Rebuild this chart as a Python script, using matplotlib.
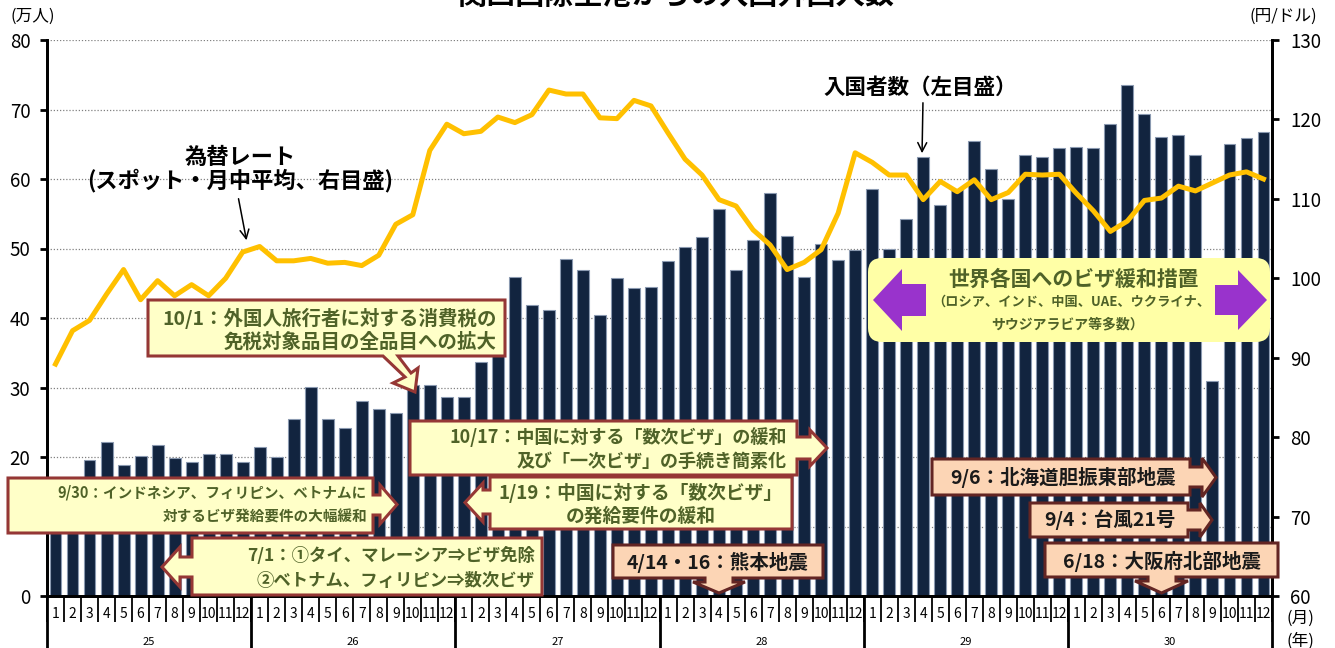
import matplotlib
matplotlib.use('Agg')
import matplotlib.pyplot as plt
from matplotlib.patches import Polygon, FancyBboxPatch, FancyArrowPatch
from matplotlib.transforms import Affine2D, blended_transform_factory
import numpy as np

plt.rcParams['font.family'] = ['Noto Sans CJK JP', 'DejaVu Sans']

# 年 (平成) と月
years = ['25', '26', '27', '28', '29', '30']
months = [str(m) for m in range(1, 13)] * len(years)

# 入国外国人数 (万人), 2013/1 - 2018/12
visitors = [15.5, 16.8, 19.6, 22.2, 18.9, 20.1, 21.7, 19.9, 19.3, 20.4, 20.5, 19.3,
            21.4, 20.0, 25.4, 30.1, 25.4, 24.2, 28.1, 26.9, 26.4, 30.3, 30.3, 28.7,
            28.7, 33.7, 36.0, 45.9, 41.8, 41.1, 48.5, 46.9, 40.4, 45.8, 44.3, 44.5,
            48.2, 50.2, 51.6, 55.7, 46.9, 51.2, 58.0, 51.8, 45.9, 50.6, 48.3, 49.8,
            58.6, 49.9, 54.2, 63.2, 56.3, 58.5, 65.4, 61.5, 57.1, 63.5, 63.2, 64.4,
            64.6, 64.5, 67.9, 73.5, 69.4, 66.1, 66.3, 63.4, 30.9, 65.0, 65.9, 66.7]

# 為替レート (円/ドル, スポット・月中平均)
yen = [89.2, 93.4, 94.7, 98.0, 101.1, 97.3, 99.7, 97.8, 99.2, 97.8, 100.0, 103.3,
       104.0, 102.2, 102.2, 102.5, 101.9, 102.0, 101.6, 102.9, 106.8, 108.0, 116.1, 119.4,
       118.2, 118.5, 120.3, 119.6, 120.6, 123.7, 123.2, 123.2, 120.2, 120.1, 122.4, 121.7,
       118.3, 115.0, 113.0, 109.9, 109.1, 106.1, 104.2, 101.1, 102.0, 103.6, 108.2, 115.8,
       114.6, 113.0, 113.0, 109.9, 112.2, 110.9, 112.4, 109.9, 110.8, 113.1, 113.0, 113.1,
       110.7, 108.5, 105.9, 107.2, 109.8, 110.1, 111.6, 111.0, 112.0, 113.0, 113.4, 112.5]

W, H = 1335, 648
fig = plt.figure(figsize=(W / 100, H / 100), dpi=100)
ax = fig.add_axes([47 / W, 1 - 596 / H, (1272 - 47) / W, 556 / H])
ax2 = ax.twinx()

x = np.arange(len(visitors))
ax.bar(x, visitors, width=0.7, color='#12243f', edgecolor='#8a99b0', linewidth=0.8)
ax.set_xlim(-0.5, len(visitors) - 0.5)
ax.set_ylim(0, 80)
ax.set_yticks(range(0, 81, 10))
ax.yaxis.grid(True, linestyle=(0, (1, 1.5)), color='#808080', lw=0.9)
ax.set_axisbelow(True)

ax2.plot(x, yen, color='#ffc000', lw=3.6, solid_joinstyle='round')
ax2.set_ylim(60, 130)
ax2.set_yticks(range(60, 131, 10))

for a in (ax, ax2):
    a.spines['top'].set_visible(False)
    for s in ('left', 'right', 'bottom'):
        a.spines[s].set_linewidth(2)
ax.tick_params(axis='y', direction='out', length=5, width=2, pad=7, labelsize=13.5)
ax2.tick_params(axis='y', direction='out', length=5, width=2, pad=8, labelsize=13.5)

# x axis: month separators and labels
ax.set_xticks(np.arange(-0.5, len(visitors)), labels=[''] * (len(visitors) + 1))
ax.tick_params(axis='x', which='major', direction='out', length=19, width=1.3)
ax.set_xticks(x, labels=months, minor=True)
ax.tick_params(axis='x', which='minor', length=0, pad=8, labelsize=10)

trans = blended_transform_factory(ax.transData, ax.transAxes)
for k in range(len(years) + 1):
    ax.plot([12 * k - 0.5] * 2, [0, -0.1], transform=trans, clip_on=False,
            color='black', lw=2)
for k, yr in enumerate(years):
    ax.text(12 * k + 5.5, -0.083, yr, transform=trans, ha='center', va='center', fontsize=8)

# pixel coordinates (origin top-left)
pxT = Affine2D().scale(1 / W, -1 / H).translate(0, 1) + fig.transFigure

fig.text(676, 10, '関西国際空港からの入国外国人数', transform=pxT, ha='center', va='bottom',
         fontsize=21, fontweight='bold')
fig.text(33, 16, '(万人)', transform=pxT, ha='center', va='center', fontsize=12)
fig.text(1283, 16, '(円/ドル)', transform=pxT, ha='center', va='center', fontsize=12)
fig.text(1300, 618, '(月)', transform=pxT, ha='center', va='center', fontsize=12)
fig.text(1300, 641, '(年)', transform=pxT, ha='center', va='center', fontsize=12)

OLIVE = '#4f6228'
YEL, YEL_EC = '#ffffc8', '#953735'
SAL, SAL_EC = '#fcd5b5', '#632523'


def shape(verts, fc, ec, lw=2.2):
    fig.add_artist(Polygon(verts, closed=True, transform=pxT, fc=fc, ec=ec, lw=lw,
                           joinstyle='miter'))


def right_box(x0, y0, x1, y1, hx, tx, sy, hy, fc, ec):
    ty = (hy[0] + hy[1]) / 2
    shape([(x0, y0), (x1, y0), (x1, sy[0]), (hx, sy[0]), (hx, hy[0]), (tx, ty),
           (hx, hy[1]), (hx, sy[1]), (x1, sy[1]), (x1, y1), (x0, y1)], fc, ec)


def left_box(x0, y0, x1, y1, hx, tx, sy, hy, fc, ec):
    ty = (hy[0] + hy[1]) / 2
    shape([(x0, y0), (x1, y0), (x1, y1), (x0, y1), (x0, sy[1]), (hx, sy[1]),
           (hx, hy[1]), (tx, ty), (hx, hy[0]), (hx, sy[0]), (x0, sy[0])], fc, ec)


def down_box(x0, y0, x1, y1, hy, ty, sx, hx, fc, ec):
    tx = (hx[0] + hx[1]) / 2
    shape([(x0, y0), (x1, y0), (x1, y1), (sx[1], y1), (sx[1], hy), (hx[1], hy),
           (tx, ty), (hx[0], hy), (sx[0], hy), (sx[0], y1), (x0, y1)], fc, ec)


def label(xp, yp, s, size, color=OLIVE, ha='center'):
    fig.text(xp, yp, s, transform=pxT, fontsize=size, color=color, fontweight='bold',
             ha=ha, va='center')


def arrow(p0, p1):
    fig.add_artist(FancyArrowPatch(p0, p1, transform=pxT, arrowstyle='->',
                                   mutation_scale=16, lw=1.1, color='black'))


# line / bar labels
label(240, 157, '為替レート', 16, 'black')
label(240, 181, '(スポット・月中平均、右目盛)', 16, 'black')
arrow((238, 196), (247, 243))
label(920, 87, '入国者数（左目盛）', 15.5, 'black')
arrow((923, 100), (922, 156))

# 10/1
shape([(148, 300), (505, 300), (505, 356), (398, 356), (411, 373), (418, 368),
       (415, 392), (393, 383), (405, 377), (383, 356), (148, 356)], YEL, YEL_EC)
label(497, 318, '10/1：外国人旅行者に対する消費税の', 14, ha='right')
label(497, 342, '免税対象品目の全品目への拡大', 14, ha='right')

# 10/17
right_box(410, 421, 797, 475, 810, 827, (437, 459), (430, 466), YEL, YEL_EC)
label(787, 437, '10/17：中国に対する「数次ビザ」の緩和', 13, ha='right')
label(787, 461, '及び「一次ビザ」の手続き簡素化', 13, ha='right')

# 1/19
left_box(490, 477, 792, 529, 483, 465, (490, 514), (483, 522), YEL, YEL_EC)
label(641, 493, '1/19：中国に対する「数次ビザ」', 13.5)
label(641, 516, 'の発給要件の緩和', 13.5)

# 9/30
right_box(8, 478, 373, 533, 380, 397, (495, 515), (485, 524), YEL, YEL_EC)
label(367, 493, '9/30：インドネシア、フィリピン、ベトナムに', 10.5, ha='right')
label(367, 517, '対するビザ発給要件の大幅緩和', 10.5, ha='right')

# 7/1
left_box(192, 538, 542, 595, 180, 162, (557, 577), (547, 587), YEL, YEL_EC)
label(535, 556, '7/1：①タイ、マレーシア⇒ビザ免除', 12.5, ha='right')
label(535, 581, '②ベトナム、フィリピン⇒数次ビザ', 12.5, ha='right')

# 世界各国へのビザ緩和措置
fig.add_artist(FancyBboxPatch((868, 258), 402, 84, transform=pxT,
                              boxstyle='round,pad=0,rounding_size=14', fc='#ffffa6', ec='none'))
PURPLE = '#9933cc'
shape([(873, 300), (902, 269), (902, 284), (926, 284), (926, 316), (902, 316), (902, 331)],
      PURPLE, 'none', 0)
shape([(1267, 300), (1238, 270), (1238, 285), (1215, 285), (1215, 315), (1238, 315), (1238, 330)],
      PURPLE, 'none', 0)
label(1073, 279, '世界各国へのビザ緩和措置', 15)
label(1071, 302, '（ロシア、インド、中国、UAE、ウクライナ、', 9.5)
label(1068, 324, 'サウジアラビア等多数）', 10)

# 地震・台風
down_box(613, 545, 823, 578, 582, 593, (705, 733), (693, 745), SAL, SAL_EC)
label(718, 562, '4/14・16：熊本地震', 14, '#1a1a1a')
right_box(932, 459, 1190, 495, 1202, 1216, (467, 487), (458, 497), SAL, SAL_EC)
label(1063, 478, '9/6：北海道胆振東部地震', 14, '#1a1a1a')
right_box(1030, 503, 1188, 537, 1200, 1212, (510, 530), (503, 537), SAL, SAL_EC)
label(1110, 520, '9/4：台風21号', 14, '#1a1a1a')
down_box(1045, 543, 1278, 577, 581, 593, (1148, 1176), (1135, 1188), SAL, SAL_EC)
label(1162, 561, '6/18：大阪府北部地震', 14, '#1a1a1a')

fig.savefig('out.png', dpi=100)
